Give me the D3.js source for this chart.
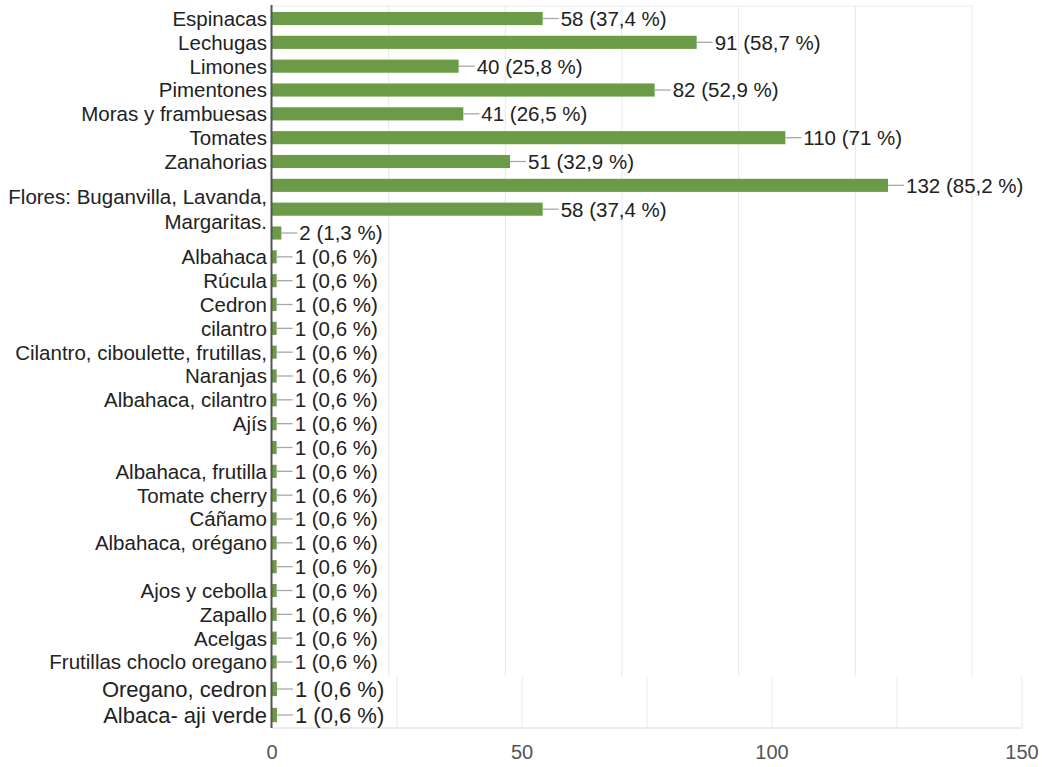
<!DOCTYPE html>
<html>
<head>
<meta charset="utf-8">
<script src="https://cdn.jsdelivr.net/npm/d3@7"></script>
<style>
  body { margin: 0; background: #fff; }
  text { font-family: "Liberation Sans", Arial, sans-serif; }
</style>
</head>
<body>
<svg id="chart"></svg>
<script>
// answers (label shown on the left, "" where the label was hidden)
const categories = [
  'Espinacas', 'Lechugas', 'Limones', 'Pimentones', 'Moras y frambuesas',
  'Tomates', 'Zanahorias', '', 'Flores: Buganvilla, Lavanda,\nMargaritas.', '',
  'Albahaca', 'Rúcula', 'Cedron', 'cilantro', 'Cilantro, ciboulette, frutillas,',
  'Naranjas', 'Albahaca, cilantro', 'Ajís', ' ', 'Albahaca, frutilla',
  'Tomate cherry', 'Cáñamo', 'Albahaca, orégano', '  ', 'Ajos y cebolla',
  'Zapallo', 'Acelgas', 'Frutillas choclo oregano',
  'Oregano, cedron', 'Albaca- aji verde'
];
const values = [
  58, 91, 40, 82, 41,
  110, 51, 132, 58, 2,
  1, 1, 1, 1, 1,
  1, 1, 1, 1, 1,
  1, 1, 1, 1, 1,
  1, 1, 1,
  1, 1
];
const respondents = 155;
const xTicks = [0, 50, 100, 150];
const gridTicks = [0, 25, 50, 75, 100, 125, 150];

// the picture is two screenshots stitched: the last two rows + axis are a bit bigger
const splitAt = 28;

const W = 1042, H = 767;
const svg = d3.select('#chart').attr('width', W).attr('height', H);

const rows = categories.map((c, i) => ({ id: i, label: c, v: values[i] }));
const upper = rows.slice(0, splitAt);
const lower = rows.slice(splitAt);

const pct = v => {
  const p = +(v / respondents * 100).toFixed(1);
  return String(p).replace('.', ',');
};

const sections = [
  { data: upper, x: d3.scaleLinear().domain([0, 150]).range([272, 972]), y0: 6, y1: 677, font: 20.5 },
  { data: lower, x: d3.scaleLinear().domain([0, 150]).range([272, 1022]), y0: 677, y1: 728, font: 22 }
];

sections.forEach((s, si) => {
  const top = si === 0 ? s.y0 + 0.6 : s.y0 - 1;
  const bottom = si === 0 ? 673.9 : 728;
  const y = d3.scaleBand()
    .domain(s.data.map(d => d.id))
    .range([top, bottom])
    .paddingInner(0.45)
    .paddingOuter(0.225);

  // grid
  const g = svg.append('g');
  g.selectAll('line.grid')
    .data(gridTicks.slice(1))
    .enter()
    .append('line')
      .attr('x1', d => s.x(d)).attr('x2', d => s.x(d))
      .attr('y1', s.y0).attr('y2', s.y1)
      .attr('stroke', '#ebebeb')
      .attr('stroke-width', 1.2);
  if (si === 0) {
    g.append('line')
      .attr('x1', s.x(0)).attr('x2', s.x(150))
      .attr('y1', s.y0).attr('y2', s.y0)
      .attr('stroke', '#ebebeb');
  } else {
    g.append('line')
      .attr('x1', s.x(0)).attr('x2', s.x(150))
      .attr('y1', s.y1).attr('y2', s.y1)
      .attr('stroke', '#e6e6e6')
      .attr('stroke-width', 1.5);
  }

  // bars
  g.selectAll('rect')
    .data(s.data)
    .enter()
    .append('rect')
      .attr('x', s.x(0))
      .attr('y', d => y(d.id))
      .attr('width', d => s.x(d.v) - s.x(0))
      .attr('height', y.bandwidth())
      .attr('fill', '#6b9b47');

  // leader lines + value labels
  g.selectAll('line.lead')
    .data(s.data)
    .enter()
    .append('line')
      .attr('x1', d => s.x(d.v))
      .attr('x2', d => s.x(d.v) + 16)
      .attr('y1', d => y(d.id) + y.bandwidth() / 2)
      .attr('y2', d => y(d.id) + y.bandwidth() / 2)
      .attr('stroke', '#a8a8a8')
      .attr('stroke-width', 1.3);

  g.selectAll('text.val')
    .data(s.data)
    .enter()
    .append('text')
      .attr('x', d => s.x(d.v) + 18)
      .attr('y', d => y(d.id) + y.bandwidth() / 2)
      .attr('dy', '0.36em')
      .style('font-size', s.font + 'px')
      .attr('fill', '#222')
      .text(d => `${d.v} (${pct(d.v)} %)`);

  // category labels
  const lab = g.selectAll('text.cat')
    .data(s.data.filter(d => d.label.trim() !== ''))
    .enter()
    .append('text')
      .attr('x', 267)
      .attr('y', d => y(d.id) + y.bandwidth() / 2)
      .attr('text-anchor', 'end')
      .style('font-size', s.font + 'px')
      .attr('fill', '#222');
  lab.each(function(d) {
    const parts = d.label.split('\n');
    const t = d3.select(this);
    parts.forEach((p, k) => {
      t.append('tspan')
        .attr('x', 267)
        .attr('dy', k === 0 ? (0.36 - (parts.length - 1) * 0.63) + 'em' : '1.26em')
        .text(p);
    });
  });
});

// vertical baseline
svg.append('line')
  .attr('x1', 271.5).attr('x2', 271.5)
  .attr('y1', 5).attr('y2', 728)
  .attr('stroke', '#555')
  .attr('stroke-width', 2);

// x axis labels (bottom section scale)
const xb = sections[1].x;
svg.append('g')
  .selectAll('text')
  .data(xTicks)
  .enter()
  .append('text')
    .attr('x', d => xb(d))
    .attr('y', 752)
    .attr('dy', '0.36em')
    .attr('text-anchor', 'middle')
    .style('font-size', '20px')
    .attr('fill', '#555')
    .text(d => d);
</script>
</body>
</html>
